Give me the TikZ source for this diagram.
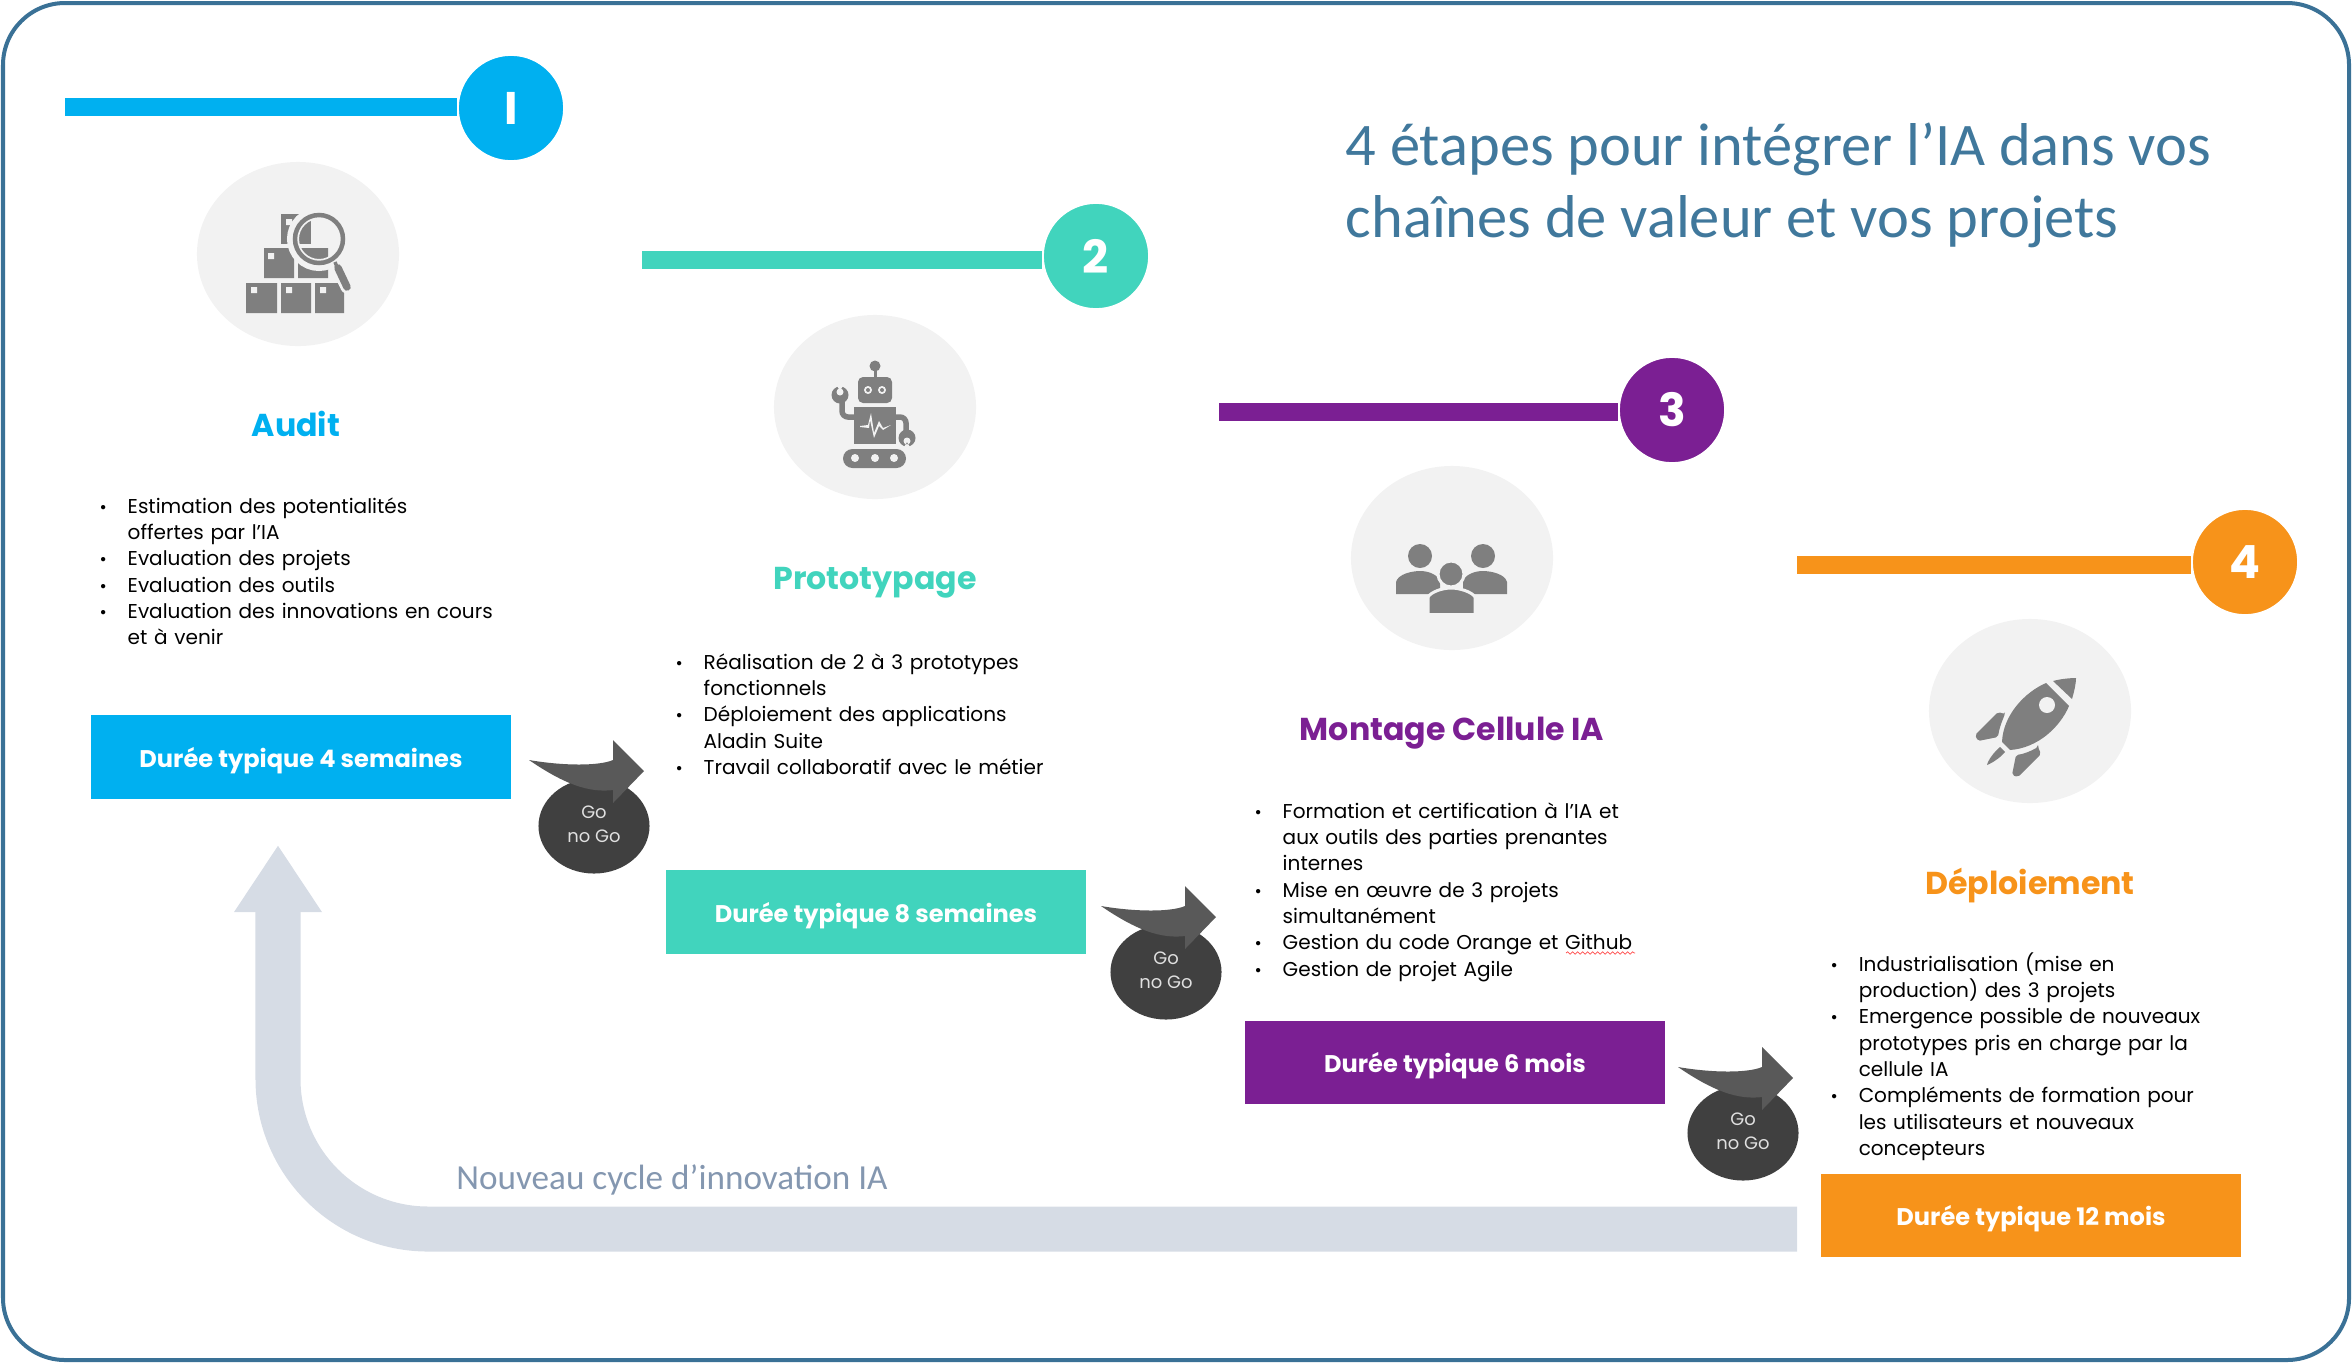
\documentclass[tikz,border=0pt]{standalone}
\usepackage{fontspec}
\setmainfont{Poppins}
\newfontfamily\fonteTitre{Carlito}
\usetikzlibrary{shapes.geometric,arrows.meta,decorations.pathmorphing}

\definecolor{colAudit}{HTML}{00B0F0}
\definecolor{colProto}{HTML}{41D4BD}
\definecolor{colCellule}{HTML}{7B1F93}
\definecolor{colDeploi}{HTML}{F7931A}
\definecolor{colTitre}{HTML}{40789C}
\definecolor{colCadre}{HTML}{3A7196}
\definecolor{colRetour}{HTML}{D6DCE5}
\definecolor{colTexteRetour}{HTML}{8497B0}
\definecolor{colFond}{HTML}{F2F2F2}
\definecolor{colIcone}{HTML}{7F7F7F}

\newenvironment{puces}{\begin{list}{\makebox[0.28cm][l]{\fontsize{5}{5}\selectfont\textbullet}}{\setlength\leftmargin{0.28cm}\setlength\labelwidth{0.28cm}\setlength\labelsep{0cm}\setlength\itemsep{0pt}\setlength\topsep{0pt}\setlength\parsep{0pt}\setlength\partopsep{0pt}\setlength\parskip{0pt}}}{\end{list}}

\begin{document}
\begin{tikzpicture}[
        x=0.01cm, y=-0.01cm,
        numero/.style={circle, draw=white, line width=0.5pt, minimum size=1.06cm, inner sep=0pt, text=white, font=\fontsize{13}{13}\selectfont\bfseries},
        barre/.style={line width=0.185cm},
        rond/.style={ellipse, fill=colFond, minimum width=2.02cm, minimum height=1.84cm, inner sep=0pt},
        titre/.style={text depth=0pt, font=\fontsize{9}{11}\selectfont\bfseries},
        liste/.style={anchor=north west, inner sep=0pt, text width=5cm, font=\fontsize{5.7}{7.5}\selectfont},
        duree/.style={minimum width=4.2cm, minimum height=0.83cm, inner sep=0pt, text depth=0pt, text=white, font=\fontsize{6.85}{9}\selectfont\bfseries},
        decision/.style={ellipse, fill=black!75, minimum width=1.11cm, minimum height=0.95cm, inner sep=0pt, align=center, text depth=0.03cm, text=black!12, font=\fontsize{5.1}{6.8}\selectfont},
        flecheGo/.pic={
            \fill[black!65] (-65,-66) .. controls (-30,-60) and (5,-60) .. (19,-66) -- (19,-86) -- (50,-55) -- (19,-23) -- (19,-36) .. controls (-5,-33) and (-30,-42) .. cycle;
        },
        icone/.style={fill=colIcone},
        trait/.style={draw=colIcone, line width=0.055cm},
        retrait/.style={draw=colFond, line width=0.03cm}
    ]
        \useasboundingbox (0,0) rectangle (2352,1363);
        % Cadre
        \draw[colCadre, line width=0.04cm, rounded corners=0.62cm] (3,3) rectangle (2349,1360);

        % Titre
        \node[anchor=west, align=left, inner sep=0pt, text=colTitre, font=\fontsize{17.2}{20.5}\selectfont\fonteTitre] (titreGeneral) at (1345,185) {4 étapes pour intégrer l’IA dans vos\\chaînes de valeur et vos projets};

        % Nouveau cycle
        \coordinate (retourDebut) at (1797,1229);
        \coordinate (retourFin) at (278,845);
        \draw[colRetour, line width=0.45cm, rounded corners=1.5cm, -{Triangle[length=0.67cm, width=0.83cm]}] (retourDebut) -| (retourFin);
        \node[text=colTexteRetour, inner sep=0pt, font=\fontsize{10}{11}\selectfont\fonteTitre] (texteRetour) at (672,1180) {Nouveau cycle d’innovation IA};

        % Audit
        \node[numero, fill=colAudit] (num1) at (511,108) {I};
        \coordinate (debut1) at (65,107);
        \draw[barre, colAudit] (debut1) -- (debut1 -| num1.west);
        \node[rond] (ic1) at (298,254) {};
        \fill[icone] (246,283) rectangle (277,313) (281,283) rectangle (311,313) (315,283) rectangle (344,313);
        \fill[icone] (264,248) rectangle (294,278) (298,248) rectangle (328,278);
        \fill[icone] (281,214) rectangle (311,244);
        \fill[colFond] (251,287) rectangle +(6,6) (286,287) rectangle +(6,6) (320,287) rectangle +(6,6) (268,253) rectangle +(6,6) (286,219) rectangle +(6,6);
        \draw[colFond, line width=0.12cm] (319,239) circle [radius=26];
        \draw[colFond, line width=0.13cm, line cap=round] (335,262) -- (347,287);
        \draw[colIcone, line width=0.045cm] (319,239) circle [radius=24];
        \draw[colIcone, line width=0.035cm] (335,262) -- (337,267);
        \draw[colIcone, line width=0.075cm, line cap=round] (338,268) -- (347,287);
        \node[titre, text=colAudit] (titre1) at (296,424) {Audit};
        \node[liste] (liste1) at (99,486) {\begin{puces}
            \item Estimation des potentialités\newline offertes par l’IA
            \item Evaluation des projets
            \item Evaluation des outils
            \item Evaluation des innovations en cours\newline et à venir
        \end{puces}};
        \node[duree, fill=colAudit] (duree1) at (301,757) {Durée typique 4 semaines};

        % Prototypage
        \node[numero, fill=colProto] (num2) at (1096,256) {2};
        \coordinate (debut2) at (642,260);
        \draw[barre, colProto] (debut2) -- (debut2 -| num2.west);
        \node[rond] (ic2) at (875,407) {};
        \fill[icone] (875,366) circle [radius=5.5];
        \draw[trait, line width=0.03cm] (875,366) -- (875,380);
        \fill[icone, rounded corners=0.05cm] (858,377) rectangle (892,403);
        \fill[colFond] (868,390) circle [radius=4] (882,390) circle [radius=4];
        \fill[icone] (868,390) circle [radius=2] (882,390) circle [radius=2];
        \fill[icone] (854,407) rectangle (896,444);
        \fill[colFond] (860,426) -- (868,425) -- (871,413) -- (874,433) -- (879,421) -- (883,428) -- (891,425) -- (883,430) -- (879,426) -- (874,438) -- (870,420) -- (869,428) -- (860,427) -- cycle;
        \fill[icone, rounded corners=0.095cm] (843,449) rectangle (906,468);
        \fill[colFond] (855,458) circle [radius=4] (875,458) circle [radius=4] (894,458) circle [radius=4];
        \draw[trait, rounded corners=0.06cm] (854,417) -| (842,396);
        \draw[trait, rounded corners=0.06cm] (896,417) -| (906,432);
        \fill[icone] (840,395) circle [radius=8.5] (907,438) circle [radius=8.5];
        \fill[colFond] (840,391) -- (836,384) -- (844,384) -- cycle (840,392) circle [radius=3.5];
        \fill[colFond] (907,442) -- (903,449) -- (911,449) -- cycle (907,441) circle [radius=3.5];
        \node[titre, text=colProto] (titre2) at (875,578) {Prototypage};
        \node[liste] (liste2) at (675,642) {\begin{puces}
            \item Réalisation de 2 à 3 prototypes\newline fonctionnels
            \item Déploiement des applications\newline Aladin Suite
            \item Travail collaboratif avec le métier
        \end{puces}};
        \node[duree, fill=colProto] (duree2) at (876,912) {Durée typique 8 semaines};

        % Cellule IA
        \node[numero, fill=colCellule] (num3) at (1672,410) {3};
        \coordinate (debut3) at (1219,412);
        \draw[barre, colCellule] (debut3) -- (debut3 -| num3.west);
        \node[rond] (ic3) at (1452,558) {};
        \fill[icone] (1420,556) circle [radius=12] (1483,556) circle [radius=12];
        \fill[icone] (1396,594) -- (1396,582) .. controls (1398,574) and (1412,571) .. (1420,571) .. controls (1428,571) and (1436,574) .. (1440,580) -- (1440,594) -- cycle;
        \fill[icone] (1507,594) -- (1507,582) .. controls (1505,574) and (1491,571) .. (1483,571) .. controls (1475,571) and (1467,574) .. (1463,580) -- (1463,594) -- cycle;
        \fill[icone, retrait] (1451,574) circle [radius=13];
        \fill[icone, retrait] (1428,620) -- (1428,597) .. controls (1431,592) and (1442,588) .. (1451,588) .. controls (1460,588) and (1472,592) .. (1475,597) -- (1475,620) -- cycle;
        \fill[colFond] (1420,613) rectangle (1485,625);
        \node[titre, text=colCellule] (titre3) at (1452,729) {Montage Cellule IA};
        \node[liste] (liste3) at (1254,791) {\begin{puces}
            \item Formation et certification à l’IA et\newline aux outils des parties prenantes\newline internes
            \item Mise en œuvre de 3 projets\newline simultanément
            \item Gestion du code Orange et Github
            \item Gestion de projet Agile
        \end{puces}};
        \coordinate (soulignA) at (1566,953);
        \coordinate (soulignB) at (1635,953);
        \draw[red!70, line width=0.2pt, decorate, decoration={snake, amplitude=0.012cm, segment length=0.05cm}] (soulignA) -- (soulignB);
        \node[duree, fill=colCellule] (duree3) at (1455,1062) {Durée typique 6 mois};

        % Deploiement
        \node[numero, fill=colDeploi] (num4) at (2245,562) {4};
        \coordinate (debut4) at (1797,565);
        \draw[barre, colDeploi] (debut4) -- (debut4 -| num4.west);
        \node[rond] (ic4) at (2030,711) {};
        \fill[icone] (2002,742) .. controls (2003,715) and (2025,692) .. (2046,683) -- (2069,706) .. controls (2060,727) and (2038,748) .. (2010,750) -- cycle;
        \fill[icone] (2053,681) .. controls (2060,679) and (2070,678) .. (2076,678) .. controls (2076,684) and (2074,692) .. (2072,699) -- cycle;
        \fill[colFond] (2047,705) circle [radius=8];
        \fill[icone, rounded corners=0.02cm] (2005,714) -- (1998,712) -- (1975,735) -- (1978,741) -- (1998,737) .. controls (1999,729) and (2002,721) .. cycle;
        \fill[icone, rounded corners=0.02cm] (2038,747) -- (2041,754) -- (2018,777) -- (2012,775) -- (2016,755) .. controls (2024,754) and (2031,751) .. cycle;
        \fill[icone] (2000,747) -- (2005,752) .. controls (2000,758) and (1992,763) .. (1987,765) .. controls (1988,760) and (1994,752) .. cycle;
        \node[titre, text=colDeploi] (titre4) at (2030,881) {Déploiement};
        \node[liste] (liste4) at (1830,944) {\begin{puces}
            \item Industrialisation (mise en\newline production) des 3 projets
            \item Emergence possible de nouveaux\newline prototypes pris en charge par la\newline cellule IA
            \item Compléments de formation pour\newline les utilisateurs et nouveaux\newline concepteurs
        \end{puces}};
        \node[duree, fill=colDeploi] (duree4) at (2031,1215) {Durée typique 12 mois};

        % Go no Go
        \node[decision] (go1) at (594,826) {Go\\no Go};
        \pic at (go1) {flecheGo};
        \node[decision] (go2) at (1166,972) {Go\\no Go};
        \pic at (go2) {flecheGo};
        \node[decision] (go3) at (1743,1133) {Go\\no Go};
        \pic at (go3) {flecheGo};
    \end{tikzpicture}
\end{document}
